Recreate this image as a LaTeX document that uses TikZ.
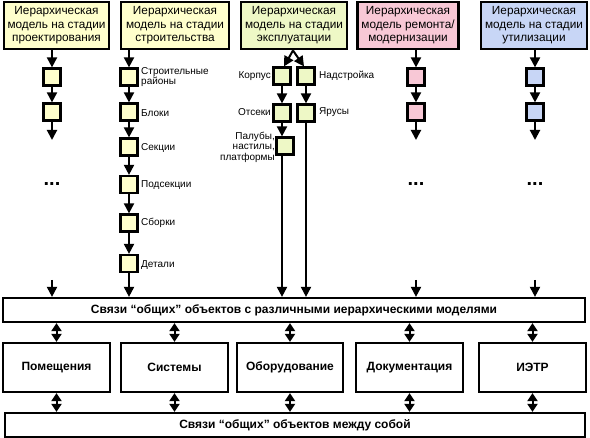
\documentclass[tikz,border=0pt]{standalone}
\usepackage{fontspec}
\setmainfont{Liberation Sans}
\usetikzlibrary{arrows.meta,calc}
\definecolor{ylw}{HTML}{FFFFCC}
\definecolor{grn}{HTML}{EEF8C6}
\definecolor{pnk}{HTML}{F8C8D6}
\definecolor{blu}{HTML}{C8D6F6}
\begin{document}
\begin{tikzpicture}[x=1pt,y=-1pt,
  >={Triangle[width=10pt,length=10pt]},
  conn/.style={line width=2pt},
  dbl/.style={line width=2pt,{Triangle[width=10pt,length=8pt]}-{Triangle[width=10pt,length=8pt]}},
  topbox/.style={draw,line width=2.2pt,minimum height=47pt,inner sep=0pt,align=center,font=\fontsize{11.8}{13.5}\selectfont},
  sq/.style={draw,line width=2.2pt,minimum size=17pt,inner sep=0pt},
  lbl/.style={font=\fontsize{10}{10.5}\selectfont,inner sep=0pt},
  bus/.style={draw,line width=2.2pt,minimum height=24pt,inner sep=0pt,font=\bfseries\fontsize{12}{13}\selectfont},
  midbox/.style={draw,line width=2.2pt,minimum height=49pt,minimum width=107pt,inner sep=0pt,font=\bfseries\fontsize{12}{13}\selectfont},
  dots/.style={font=\bfseries\fontsize{20}{20}\selectfont,inner sep=0pt}
]
\useasboundingbox (0,0) rectangle (590,438);
% top boxes
\node[topbox,fill=ylw,minimum width=105pt] (B1) at (56.5,25.5) {Иерархическая\\модель на стадии\\проектирования};
\node[topbox,fill=ylw,minimum width=108pt] (B2) at (175,25.5) {Иерархическая\\модель на стадии\\строительства};
\node[topbox,fill=grn,minimum width=106pt] (B3) at (294,25.5) {Иерархическая\\модель на стадии\\эксплуатации};
\node[topbox,fill=pnk,minimum width=101pt] (B4) at (408,25.5) {Иерархическая\\модель ремонта/\\модернизации};
\node[topbox,fill=blu,minimum width=106pt] (B5) at (534,25.5) {Иерархическая\\модель на стадии\\утилизации};
% buses and bottom boxes
\node[bus,minimum width=582pt] (bus1) at (294,310) {Связи “общих” объектов с различными иерархическими моделями};
\node[midbox] (m1) at (56.5,367.5) {Помещения};
\node[midbox] (m2) at (174.5,367.5) {Системы};
\node[midbox,minimum width=106pt] (m3) at (290,367.5) {Оборудование};
\node[midbox] (m4) at (409.5,367.5) {Документация};
\node[midbox] (m5) at (532.5,367.5) {ИЭТР};
\node[bus,minimum width=580pt] (bus2) at (295,425) {Связи “общих” объектов между собой};
\foreach \m in {m1,m2,m3,m4,m5}{
  \draw[dbl] (\m |- bus1.south) -- (\m.north);
  \draw[dbl] (\m.south) -- (\m |- bus2.north);
}
% column 1
\node[sq,fill=ylw] (a1) at (52,77) {};
\node[sq,fill=ylw] (a2) at (52,112) {};
\coordinate (a3) at (52,140);
\node[dots] (ad) at (52,184) {...};
\coordinate (a4) at (52,280);
\draw[conn,->] (a1 |- B1.south) -- (a1.north);
\draw[conn,->] (a1.south) -- (a2.north);
\draw[conn,->] (a2.south) -- (a3);
\draw[conn,->] (a4) -- (a4 |- bus1.north);
% column 4
\node[sq,fill=pnk] (d1) at (416,77) {};
\node[sq,fill=pnk] (d2) at (416,112) {};
\coordinate (d3) at (416,140);
\node[dots] (dd) at (416,184) {...};
\coordinate (d4) at (416,280);
\draw[conn,->] (d1 |- B4.south) -- (d1.north);
\draw[conn,->] (d1.south) -- (d2.north);
\draw[conn,->] (d2.south) -- (d3);
\draw[conn,->] (d4) -- (d4 |- bus1.north);
% column 5
\node[sq,fill=blu] (e1) at (535,77) {};
\node[sq,fill=blu] (e2) at (535,112) {};
\coordinate (e3) at (535,140);
\node[dots] (ed) at (535,184) {...};
\coordinate (e4) at (535,280);
\draw[conn,->] (e1 |- B5.south) -- (e1.north);
\draw[conn,->] (e1.south) -- (e2.north);
\draw[conn,->] (e2.south) -- (e3);
\draw[conn,->] (e4) -- (e4 |- bus1.north);
% column 2
\node[sq,fill=ylw] (b1) at (129,77) {};
\node[sq,fill=ylw] (b2) at (129,112) {};
\node[sq,fill=ylw] (b3) at (129,147) {};
\node[sq,fill=ylw] (b4) at (129,184.5) {};
\node[sq,fill=ylw] (b5) at (129,223) {};
\node[sq,fill=ylw] (b6) at (129,263.5) {};
\draw[conn,->] (b1 |- B2.south) -- (b1.north);
\draw[conn,->] (b1.south) -- (b2.north);
\draw[conn,->] (b2.south) -- (b3.north);
\draw[conn,->] (b3.south) -- (b4.north);
\draw[conn,->] (b4.south) -- (b5.north);
\draw[conn,->] (b5.south) -- (b6.north);
\draw[conn,->] (b6.south) -- (b6 |- bus1.north);
\node[lbl,anchor=west,align=left] (lb1) at (141,77) {Строительные\\районы};
\node[lbl,anchor=west] (lb2) at (141,113) {Блоки};
\node[lbl,anchor=west] (lb3) at (141,148) {Секции};
\node[lbl,anchor=west] (lb4) at (141,185) {Подсекции};
\node[lbl,anchor=west] (lb5) at (141,223) {Сборки};
\node[lbl,anchor=west] (lb6) at (141,265) {Детали};
% column 3
\coordinate (apex) at (293,50.5);
\node[sq,fill=grn] (c1) at (282,76) {};
\node[sq,fill=grn] (c2) at (306,76) {};
\node[sq,fill=grn] (c3) at (282,113) {};
\node[sq,fill=grn] (c4) at (306,113) {};
\node[sq,fill=grn] (c5) at (285,146) {};
\draw[conn,->] (apex) -- ([xshift=2pt]c1.north);
\draw[conn,->] (apex) -- ([xshift=-2pt]c2.north);
\draw[conn,->] (c1.south) -- (c3.north);
\draw[conn,->] (c2.south) -- (c4.north);
\draw[conn,->] (c3.south) -- (c3.south |- c5.north);
\draw[conn,->] (c5.south -| c3) -- (c3 |- bus1.north);
\draw[conn,->] (c4.south) -- (c4 |- bus1.north);
\node[lbl,anchor=east] (lc1) at (271,76) {Корпус};
\node[lbl,anchor=west] (lc2) at (319,76) {Надстройка};
\node[lbl,anchor=east] (lc3) at (271,112) {Отсеки};
\node[lbl,anchor=west] (lc4) at (319,112) {Ярусы};
\node[lbl,anchor=east,align=right] (lc5) at (275,147) {Палубы,\\настилы,\\платформы};
\end{tikzpicture}
\end{document}
